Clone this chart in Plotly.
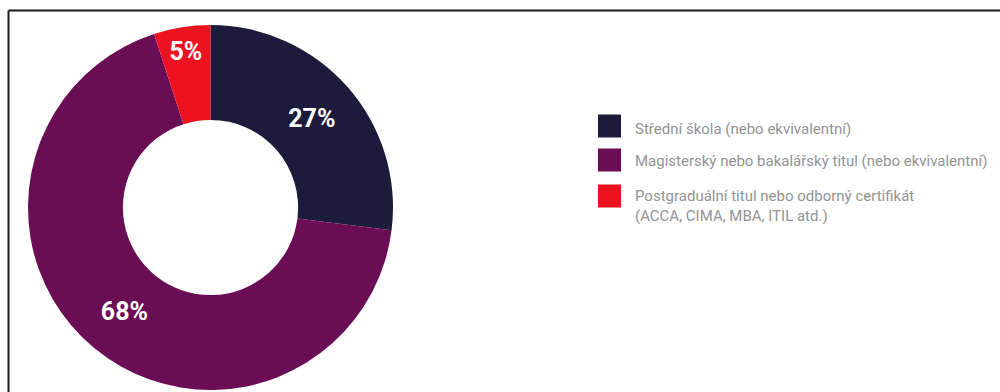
import plotly.graph_objects as go

# Education level breakdown (share of respondents, %)
categories = [
    "Střední škola (nebo ekvivalentní)",
    "Magisterský nebo bakalářský titul (nebo ekvivalentní)",
    "Postgraduální titul nebo odborný certifikát<br>(ACCA, CIMA, MBA, ITIL atd.)",
]
shares = [27, 68, 5]
colors = ["#1c1b3b", "#6a0d55", "#ec121f"]

W, H = 1000, 392


def px(x):
    return x / W


def py(y):
    return 1 - y / H


fig = go.Figure(
    go.Pie(
        labels=categories,
        values=shares,
        marker=dict(colors=colors, line=dict(width=0)),
        hole=0.48,
        sort=False,
        direction="clockwise",
        rotation=0,
        textinfo="percent",
        texttemplate="%{percent:.0%}",
        textposition="inside",
        insidetextorientation="horizontal",
        textfont=dict(family="Roboto", size=25, color="white", weight="bold"),
        domain=dict(x=[px(28), px(393)], y=[1 - 390 / H, 1 - 25 / H]),
        showlegend=False,
    )
)

# Legend: colour swatch + label for each category
swatch_centers = [126, 160, 196]
label_centers = [129, 161, 206]
shapes = []
annotations = []
for cat, col, sy, ty in zip(categories, colors, swatch_centers, label_centers):
    shapes.append(
        dict(
            type="rect", xref="paper", yref="paper",
            x0=px(598), x1=px(621), y0=py(sy + 11.5), y1=py(sy - 11.5),
            fillcolor=col, line=dict(width=0),
        )
    )
    annotations.append(
        dict(
            xref="paper", yref="paper", x=px(633), y=py(ty),
            xanchor="left", yanchor="middle", align="left",
            text=cat, showarrow=False,
            font=dict(family="Roboto", size=15, color="#939393"),
        )
    )

# Frame lines along the top and left edges
shapes.append(dict(type="line", xref="paper", yref="paper",
                   x0=px(8.5), x1=1, y0=py(10.5), y1=py(10.5),
                   line=dict(color="#1a1a1a", width=2)))
shapes.append(dict(type="line", xref="paper", yref="paper",
                   x0=px(8.5), x1=px(8.5), y0=py(10.5), y1=0,
                   line=dict(color="#1a1a1a", width=2)))

fig.update_layout(
    width=W, height=H,
    margin=dict(l=0, r=0, t=0, b=0),
    paper_bgcolor="white",
    plot_bgcolor="white",
    shapes=shapes,
    annotations=annotations,
)

fig.write_html("out.html")
